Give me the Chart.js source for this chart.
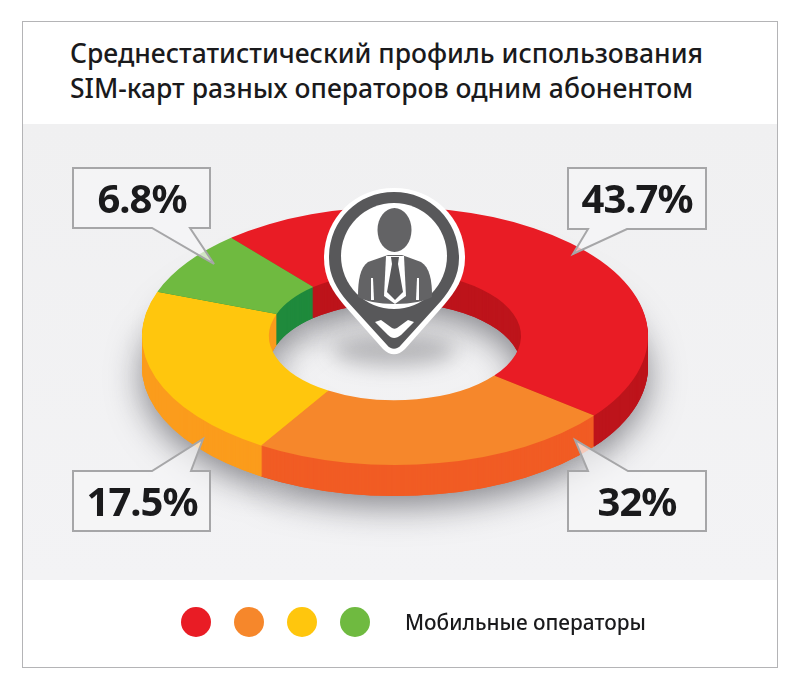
<!DOCTYPE html>
<html lang="ru">
<head>
<meta charset="utf-8">
<title>SIM</title>
<script src="https://cdn.jsdelivr.net/npm/chart.js@4"></script>
<style>
html,body{margin:0;padding:0;background:#fff;width:800px;height:694px;overflow:hidden}
#page{position:relative;width:800px;height:694px;font-family:"Noto Sans",sans-serif;color:#1a1a1c}
#frame{position:absolute;left:22px;top:21px;width:754px;height:645px;border:1px solid #b4b4b6}
#panel{position:absolute;left:23px;top:124px;width:754px;height:456px;background:linear-gradient(#f0f0f1,#f3f3f5)}
canvas#c{position:absolute;left:0;top:0}
.title{position:absolute;left:70px;font-size:26.5px;line-height:34px;font-weight:500;white-space:nowrap}
#over{position:absolute;left:0;top:0}
.val{position:absolute;width:138px;text-align:center;font-size:40px;line-height:44px;font-weight:700;letter-spacing:-1px}
.dot{position:absolute;width:30px;height:30px;border-radius:50%;top:607px}
#legend{position:absolute;left:405px;top:609px;font-size:20.8px;line-height:26px;font-weight:500;white-space:nowrap}
</style>
</head>
<body>
<div id="page">
  <div id="frame"></div>
  <div id="panel"></div>
  <div class="title" id="t1" style="top:36px"></div>
  <div class="title" id="t2" style="top:71px"></div>
  <canvas id="c" width="800" height="694"></canvas>
  <svg id="over" width="800" height="694" viewBox="0 0 800 694"></svg>
  <div id="vals"></div>
  <div id="dots"></div>
  <div id="legend"></div>
</div>
<script>
const titleLines = ["Среднестатистический профиль использования", "SIM-карт разных операторов одним абонентом"];
const legendText = "Мобильные операторы";
const printedLabels = ["43.7%", "32%", "17.5%", "6.8%"];
// slice shares as drawn in the picture, measured from the ring geometry
const drawnShares = [46.8, 23.3, 21.7, 8.2];
const topColors = ["#e91c25", "#f6872b", "#ffc60d", "#6fba40"];
const wallColors = ["#bd141b", "#f15c24", "#fb9c1c", "#1f8a3c"];

const DEPTH = 31, SQUASH = 129 / 253, CX = 395, CY = 336, R = 253;
function squash(ctx, dy) {
  ctx.translate(CX, CY + dy);
  ctx.scale(1, SQUASH);
  ctx.translate(-CX, -CY);
}
function drawWith(arc, ctx, color) {
  const o = arc.options;
  arc.options = Object.assign({}, o, {backgroundColor: color, borderWidth: 0});
  arc.draw(ctx);
  arc.options = o;
}
const ring3d = {
  id: "ring3d",
  beforeDatasetsDraw(chart) {
    const ctx = chart.ctx, arcs = chart.getDatasetMeta(0).data;
    ctx.save();
    ctx.shadowColor = "rgba(40,40,50,0.55)";
    ctx.shadowBlur = 34;
    ctx.shadowOffsetY = 10;
    squash(ctx, DEPTH);
    arcs.forEach((a, i) => drawWith(a, ctx, wallColors[i]));
    ctx.restore();
    for (let d = DEPTH; d >= 1; d--) {
      ctx.save();
      squash(ctx, d);
      arcs.forEach((a, i) => drawWith(a, ctx, wallColors[i]));
      ctx.restore();
    }
    ctx.save();
    squash(ctx, 0);
  },
  afterDatasetsDraw(chart) { chart.ctx.restore(); }
};

new Chart(document.getElementById("c"), {
  type: "doughnut",
  data: {
    labels: printedLabels,
    datasets: [{data: drawnShares, backgroundColor: topColors, borderWidth: 0}]
  },
  options: {
    responsive: false,
    animation: false,
    events: [],
    rotation: -40.4,
    cutout: "49.8%",
    layout: {padding: {left: CX - R, right: 800 - CX - R, top: CY - R, bottom: 694 - CY - R}},
    plugins: {legend: {display: false}, tooltip: {enabled: false}}
  },
  plugins: [ring3d]
});

document.getElementById("t1").textContent = titleLines[0];
document.getElementById("t2").textContent = titleLines[1];
document.getElementById("legend").textContent = legendText;

// callouts
const boxes = [
  [568,168,138,61,"M568 168H706V229H627L573 254L588 229H568Z"],
  [568,471,138,60,"M568 471H588L575 440L628 471H706V531H568Z"],
  [73,471,137,60,"M73 471H152L203 439L191 471H210V531H73Z"],
  [73,168,137,60,"M73 168H210V228H190L214 264L152 228H73Z"]
];
const NS = "http://www.w3.org/2000/svg";
const over = document.getElementById("over");
function el(name, attrs) {
  const e = document.createElementNS(NS, name);
  for (const k in attrs) e.setAttribute(k, attrs[k]);
  over.appendChild(e);
  return e;
}
const valsDiv = document.getElementById("vals");
boxes.forEach((b, i) => {
  const [x, y, w, h, p] = b;
  el("path", {d: p, fill: "rgba(245,245,247,0.72)", stroke: "#a6a6a8", "stroke-width": 2});
  const v = document.createElement("div");
  v.className = "val";
  v.style.left = x + "px";
  v.style.top = (y + 8) + "px";
  v.textContent = printedLabels[i];
  valsDiv.appendChild(v);
});

// pin
el("ellipse", {cx:394, cy:350, rx:62, ry:16, fill:"rgba(60,60,65,.32)", style:"filter:blur(10px)"});
el("path", {d:"M394 188C354 188 324 219 324 258C324 278 333 292 344 305L383 349C390 356 398 356 405 349L444 305C455 292 465 278 465 258C465 219 434 188 394 188Z", fill:"#fff"});
el("path", {d:"M394 192C357 192 329 221 329 258C329 276 337 289 347 301L387 345C391 350 397 350 401 345L441 301C451 289 459 276 459 258C459 221 431 192 394 192Z", fill:"#58585a"});
el("circle", {cx:394, cy:256, r:53, fill:"#fff"});
el("ellipse", {cx:394.5, cy:230, rx:17, ry:22, fill:"#636365"});
el("path", {d:"M358 297C358 280 360 268 368 262L388 255L402 255L421 262C430 268 432 280 432 297C425 301 412 304 395 304C378 304 365 301 358 297Z", fill:"#636365"});
el("path", {d:"M386 256L404 256L406 296L395 304L384 296Z", fill:"#fff"});
el("path", {d:"M391 257H399L398 264L403 292L395 300L387 292L392 264Z", fill:"#58585a"});
el("path", {d:"M371 278L373 278L374 300L371 300Z", fill:"#fff"});
el("path", {d:"M417 278L419 278L419 300L416 300Z", fill:"#fff"});
el("path", {d:"M375 322L381 320L392 328C394 329 395 329 397 328L408 320L414 322L401 335C396 339 392 339 388 335Z", fill:"#fff"});

// legend dots
const dots = document.getElementById("dots");
const dotX = [181, 234, 287, 340];
topColors.forEach((c, i) => {
  const d = document.createElement("div");
  d.className = "dot";
  d.style.left = dotX[i] + "px";
  d.style.background = c;
  dots.appendChild(d);
});
</script>
</body>
</html>
